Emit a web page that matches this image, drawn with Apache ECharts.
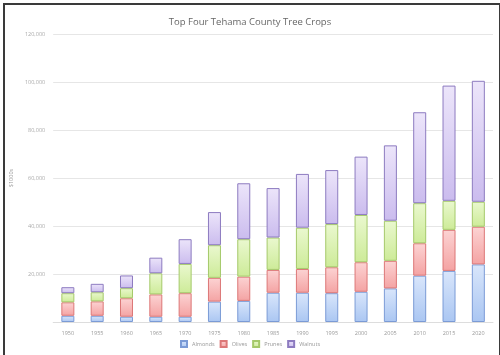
<!DOCTYPE html>
<html>
<head>
<meta charset="utf-8">
<script src="https://cdn.jsdelivr.net/npm/echarts@6/dist/echarts.min.js"></script>
<style>
  html, body { margin: 0; padding: 0; background: #fff; }
  #frame { position: absolute; left: 3px; top: 3px; width: 494px; height: 352px; border: 2px solid #3a3a3a; border-bottom: none; }
  #chart { position: absolute; left: 0; top: 0; width: 500px; height: 355px; }
</style>
</head>
<body>
<div id="chart"></div>
<div id="frame"></div>
<script>
// values in $1000s
const years = ['1950', '1955', '1960', '1965', '1970', '1975', '1980', '1985', '1990', '1995', '2000', '2005', '2010', '2015', '2020'];
const almonds = [2600, 2600, 2200, 2200, 2200, 8500, 8800, 12200, 12200, 12000, 12600, 14000, 19300, 21300, 24000];
const olives = [5600, 6000, 7700, 9300, 9800, 9900, 10100, 9500, 9900, 10800, 12300, 11500, 13500, 17100, 15700];
const prunes = [3800, 3800, 4200, 8800, 12200, 13600, 15600, 13500, 17200, 18000, 19700, 16700, 16700, 12100, 10400];
const walnuts = [2500, 3500, 5300, 6500, 10300, 13800, 23300, 20600, 22400, 22500, 24300, 31400, 37900, 48000, 50400];

const palette = [
  {name: 'Almonds', top: '#d9e6fb', bottom: '#aac6f2', border: '#7b9bd6', data: almonds},
  {name: 'Olives', top: '#fcd3d3', bottom: '#f4a3a3', border: '#dc7777', data: olives},
  {name: 'Prunes', top: '#eaf8cf', bottom: '#cdeb98', border: '#a5c96a', data: prunes},
  {name: 'Walnuts', top: '#ece5fa', bottom: '#cbbcee', border: '#8d7bc0', data: walnuts}
];

const chart = echarts.init(document.getElementById('chart'));
chart.setOption({
  animation: false,
  textStyle: {fontFamily: 'Open Sans'},
  title: {
    text: 'Top Four Tehama County Tree Crops',
    left: 'center',
    top: 12,
    textStyle: {fontSize: 9.5, fontWeight: 'normal', color: '#666'}
  },
  legend: {
    bottom: 2,
    left: 'center',
    icon: 'rect',
    itemWidth: 6,
    itemHeight: 6,
    itemGap: 5,
    textStyle: {fontSize: 5.5, color: '#999'},
    data: palette.map(p => p.name)
  },
  grid: {left: 46, right: 7, top: 34, bottom: 33},
  xAxis: {
    type: 'category',
    data: years,
    axisLine: {lineStyle: {color: '#ddd'}},
    axisTick: {show: false},
    axisLabel: {fontSize: 5.5, color: '#999', margin: 8}
  },
  yAxis: {
    type: 'value',
    min: 0,
    max: 120000,
    interval: 20000,
    name: '$1000s',
    nameLocation: 'middle',
    nameGap: 28,
    nameTextStyle: {fontSize: 5.5, color: '#999'},
    axisLine: {show: false},
    axisTick: {show: false},
    axisLabel: {
      fontSize: 5.5,
      color: '#aaa',
      margin: 8,
      formatter: v => v === 0 ? '' : v.toLocaleString('en-US')
    },
    splitLine: {lineStyle: {color: '#e6e6e6'}}
  },
  series: palette.map(p => ({
    name: p.name,
    type: 'bar',
    stack: 'crops',
    barWidth: 13,
    itemStyle: {
      color: new echarts.graphic.LinearGradient(0, 0, 0, 1, [
        {offset: 0, color: p.top},
        {offset: 1, color: p.bottom}
      ]),
      borderColor: p.border,
      borderWidth: 1
    },
    data: p.data
  }))
});
</script>
</body>
</html>
